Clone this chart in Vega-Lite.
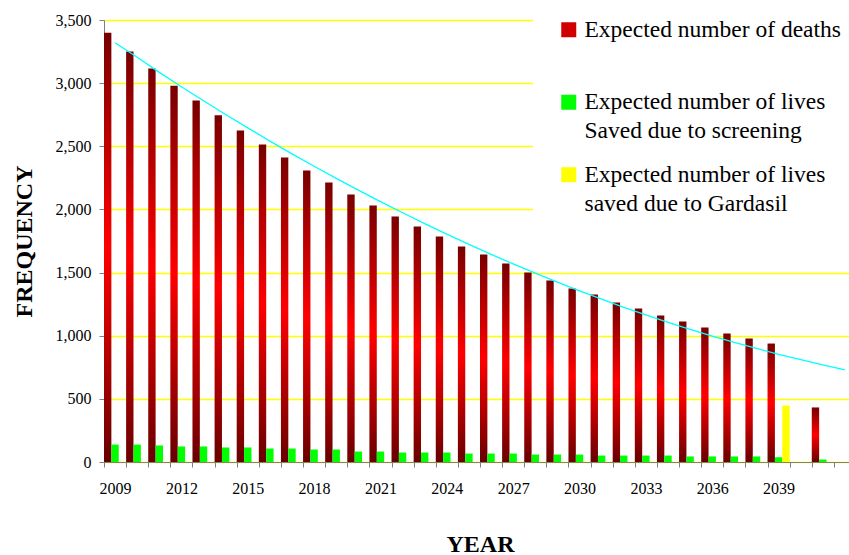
{
  "$schema": "https://vega.github.io/schema/vega-lite/v6.json",
  "width": 752,
  "height": 442,
  "autosize": {"type": "none"},
  "padding": {"left": 104, "top": 20, "right": 0, "bottom": 93},
  "background": "white",
  "config": {
    "font": "Liberation Serif",
    "view": {"stroke": null},
    "axis": {
      "labelFont": "Liberation Serif",
      "labelFontSize": 16,
      "labelColor": "#000000",
      "titleFont": "Liberation Serif",
      "titleFontSize": 24,
      "titleFontWeight": "bold",
      "titleColor": "#000000",
      "domainColor": "#808080",
      "tickColor": "#808080",
      "tickSize": 5
    }
  },
  "datasets": {
    "bars": [
      {"year": 2009, "series": "deaths", "value": 3400},
      {"year": 2010, "series": "deaths", "value": 3250},
      {"year": 2011, "series": "deaths", "value": 3115},
      {"year": 2012, "series": "deaths", "value": 2980},
      {"year": 2013, "series": "deaths", "value": 2862},
      {"year": 2014, "series": "deaths", "value": 2745},
      {"year": 2015, "series": "deaths", "value": 2625},
      {"year": 2016, "series": "deaths", "value": 2515},
      {"year": 2017, "series": "deaths", "value": 2412},
      {"year": 2018, "series": "deaths", "value": 2308},
      {"year": 2019, "series": "deaths", "value": 2213},
      {"year": 2020, "series": "deaths", "value": 2118},
      {"year": 2021, "series": "deaths", "value": 2031},
      {"year": 2022, "series": "deaths", "value": 1944},
      {"year": 2023, "series": "deaths", "value": 1865},
      {"year": 2024, "series": "deaths", "value": 1786},
      {"year": 2025, "series": "deaths", "value": 1706},
      {"year": 2026, "series": "deaths", "value": 1643},
      {"year": 2027, "series": "deaths", "value": 1572},
      {"year": 2028, "series": "deaths", "value": 1501},
      {"year": 2029, "series": "deaths", "value": 1437},
      {"year": 2030, "series": "deaths", "value": 1374},
      {"year": 2031, "series": "deaths", "value": 1326},
      {"year": 2032, "series": "deaths", "value": 1263},
      {"year": 2033, "series": "deaths", "value": 1215},
      {"year": 2034, "series": "deaths", "value": 1160},
      {"year": 2035, "series": "deaths", "value": 1112},
      {"year": 2036, "series": "deaths", "value": 1065},
      {"year": 2037, "series": "deaths", "value": 1017},
      {"year": 2038, "series": "deaths", "value": 978},
      {"year": 2039, "series": "deaths", "value": 938},
      {"year": 2041, "series": "deaths", "value": 432},
      {"year": 2009, "series": "screening", "value": 138},
      {"year": 2010, "series": "screening", "value": 138},
      {"year": 2011, "series": "screening", "value": 131},
      {"year": 2012, "series": "screening", "value": 123},
      {"year": 2013, "series": "screening", "value": 123},
      {"year": 2014, "series": "screening", "value": 115},
      {"year": 2015, "series": "screening", "value": 115},
      {"year": 2016, "series": "screening", "value": 107},
      {"year": 2017, "series": "screening", "value": 107},
      {"year": 2018, "series": "screening", "value": 99},
      {"year": 2019, "series": "screening", "value": 99},
      {"year": 2020, "series": "screening", "value": 83},
      {"year": 2021, "series": "screening", "value": 83},
      {"year": 2022, "series": "screening", "value": 75},
      {"year": 2023, "series": "screening", "value": 75},
      {"year": 2024, "series": "screening", "value": 75},
      {"year": 2025, "series": "screening", "value": 67},
      {"year": 2026, "series": "screening", "value": 67},
      {"year": 2027, "series": "screening", "value": 67},
      {"year": 2028, "series": "screening", "value": 59},
      {"year": 2029, "series": "screening", "value": 59},
      {"year": 2030, "series": "screening", "value": 59},
      {"year": 2031, "series": "screening", "value": 51},
      {"year": 2032, "series": "screening", "value": 51},
      {"year": 2033, "series": "screening", "value": 51},
      {"year": 2034, "series": "screening", "value": 51},
      {"year": 2035, "series": "screening", "value": 44},
      {"year": 2036, "series": "screening", "value": 44},
      {"year": 2037, "series": "screening", "value": 44},
      {"year": 2038, "series": "screening", "value": 44},
      {"year": 2039, "series": "screening", "value": 38},
      {"year": 2041, "series": "screening", "value": 20},
      {"year": 2039, "series": "gardasil", "value": 447}
    ],
    "trend": [
      {"year": 2009, "trend": 3320},
      {"year": 2010, "trend": 3205},
      {"year": 2011, "trend": 3085},
      {"year": 2012, "trend": 2972},
      {"year": 2013, "trend": 2861},
      {"year": 2014, "trend": 2752},
      {"year": 2015, "trend": 2646},
      {"year": 2016, "trend": 2541},
      {"year": 2017, "trend": 2440},
      {"year": 2018, "trend": 2342},
      {"year": 2019, "trend": 2246},
      {"year": 2020, "trend": 2153},
      {"year": 2021, "trend": 2062},
      {"year": 2022, "trend": 1974},
      {"year": 2023, "trend": 1888},
      {"year": 2024, "trend": 1804},
      {"year": 2025, "trend": 1723},
      {"year": 2026, "trend": 1644},
      {"year": 2027, "trend": 1569},
      {"year": 2028, "trend": 1496},
      {"year": 2029, "trend": 1424},
      {"year": 2030, "trend": 1355},
      {"year": 2031, "trend": 1289},
      {"year": 2032, "trend": 1225},
      {"year": 2033, "trend": 1165},
      {"year": 2034, "trend": 1106},
      {"year": 2035, "trend": 1050},
      {"year": 2036, "trend": 997},
      {"year": 2037, "trend": 947},
      {"year": 2038, "trend": 899},
      {"year": 2039, "trend": 853},
      {"year": 2040, "trend": 810},
      {"year": 2041, "trend": 769},
      {"year": 2042, "trend": 730}
    ]
  },
  "encoding": {
    "x": {
      "field": "year",
      "type": "ordinal",
      "scale": {
        "domain": [2009, 2010, 2011, 2012, 2013, 2014, 2015, 2016, 2017, 2018, 2019, 2020, 2021, 2022, 2023, 2024, 2025, 2026, 2027, 2028, 2029, 2030, 2031, 2032, 2033, 2034, 2035, 2036, 2037, 2038, 2039, 2040, 2041, 2042],
        "paddingInner": 0,
        "paddingOuter": 0
      },
      "axis": {
        "title": "YEAR",
        "titlePadding": 36,
        "labelAngle": 0,
        "labelPadding": 13,
        "tickBand": "extent",
        "labelExpr": "((datum.value - 2009) % 3 === 0 && datum.value < 2042) ? datum.label : ''"
      }
    }
  },
  "layer": [
    {
      "data": {"name": "bars"},
      "transform": [{"filter": "datum.series === 'deaths'"}],
      "mark": {
        "type": "bar",
        "color": {
          "gradient": "linear",
          "x1": 0, "y1": 0, "x2": 0, "y2": 1,
          "stops": [
            {"offset": 0, "color": "#780000"},
            {"offset": 0.5, "color": "#ff0000"},
            {"offset": 1, "color": "#680000"}
          ]
        }
      },
      "encoding": {
        "xOffset": {"field": "series", "type": "nominal", "scale": {"domain": ["deaths", "screening", "gardasil"], "paddingInner": 0, "paddingOuter": 0}},
        "y": {
          "field": "value",
          "type": "quantitative",
          "scale": {"domain": [0, 3500]},
          "axis": {
            "title": "FREQUENCY",
            "titlePadding": 19,
            "format": ",.0f",
            "values": [0, 500, 1000, 1500, 2000, 2500, 3000, 3500],
            "labelPadding": 8,
            "grid": true,
            "gridColor": "#ffff00",
            "gridWidth": 1.3
          }
        }
      }
    },
    {
      "data": {"name": "bars"},
      "transform": [{"filter": "datum.series !== 'deaths'"}],
      "mark": {"type": "bar"},
      "encoding": {
        "xOffset": {"field": "series", "type": "nominal", "scale": {"domain": ["deaths", "screening", "gardasil"], "paddingInner": 0, "paddingOuter": 0}},
        "y": {"field": "value", "type": "quantitative"},
        "color": {
          "field": "series",
          "type": "nominal",
          "scale": {"domain": ["deaths", "screening", "gardasil"], "range": ["#d00000", "#00ff00", "#ffff00"]},
          "legend": {
            "title": null,
            "orient": "none",
            "legendX": 429,
            "legendY": -26,
            "padding": 24,
            "fillColor": "white",
            "symbolType": "square",
            "symbolSize": 225,
            "symbolStrokeWidth": 0,
            "labelFont": "Liberation Serif",
            "labelFontSize": 23.5,
            "labelColor": "#000000",
            "labelLimit": 0,
            "labelOffset": 4,
            "labelBaseline": "top",
            "rowPadding": 18.5,
            "labelExpr": "datum.value === 'deaths' ? ['Expected number of deaths', ''] : datum.value === 'screening' ? ['Expected number of lives', 'Saved due to screening'] : ['Expected number of lives', 'saved due to Gardasil']",
            "encode": {
              "labels": {"update": {"lineHeight": {"value": 29}, "dy": {"value": -12}}},
              "symbols": {
                "update": {
                  "fill": [
                    {
                      "test": "datum.value === 'deaths'",
                      "value": {
                        "gradient": "linear",
                        "x1": 0, "y1": 0, "x2": 0, "y2": 1,
                        "stops": [
                          {"offset": 0, "color": "#ff0000"},
                          {"offset": 0.45, "color": "#e00000"},
                          {"offset": 1, "color": "#7a0000"}
                        ]
                      }
                    },
                    {"scale": "color", "field": "value"}
                  ]
                }
              }
            }
          }
        }
      }
    },
    {
      "data": {"name": "trend"},
      "mark": {"type": "line", "color": "#00ffff", "strokeWidth": 1.3},
      "encoding": {
        "y": {"field": "trend", "type": "quantitative"}
      }
    }
  ]
}
